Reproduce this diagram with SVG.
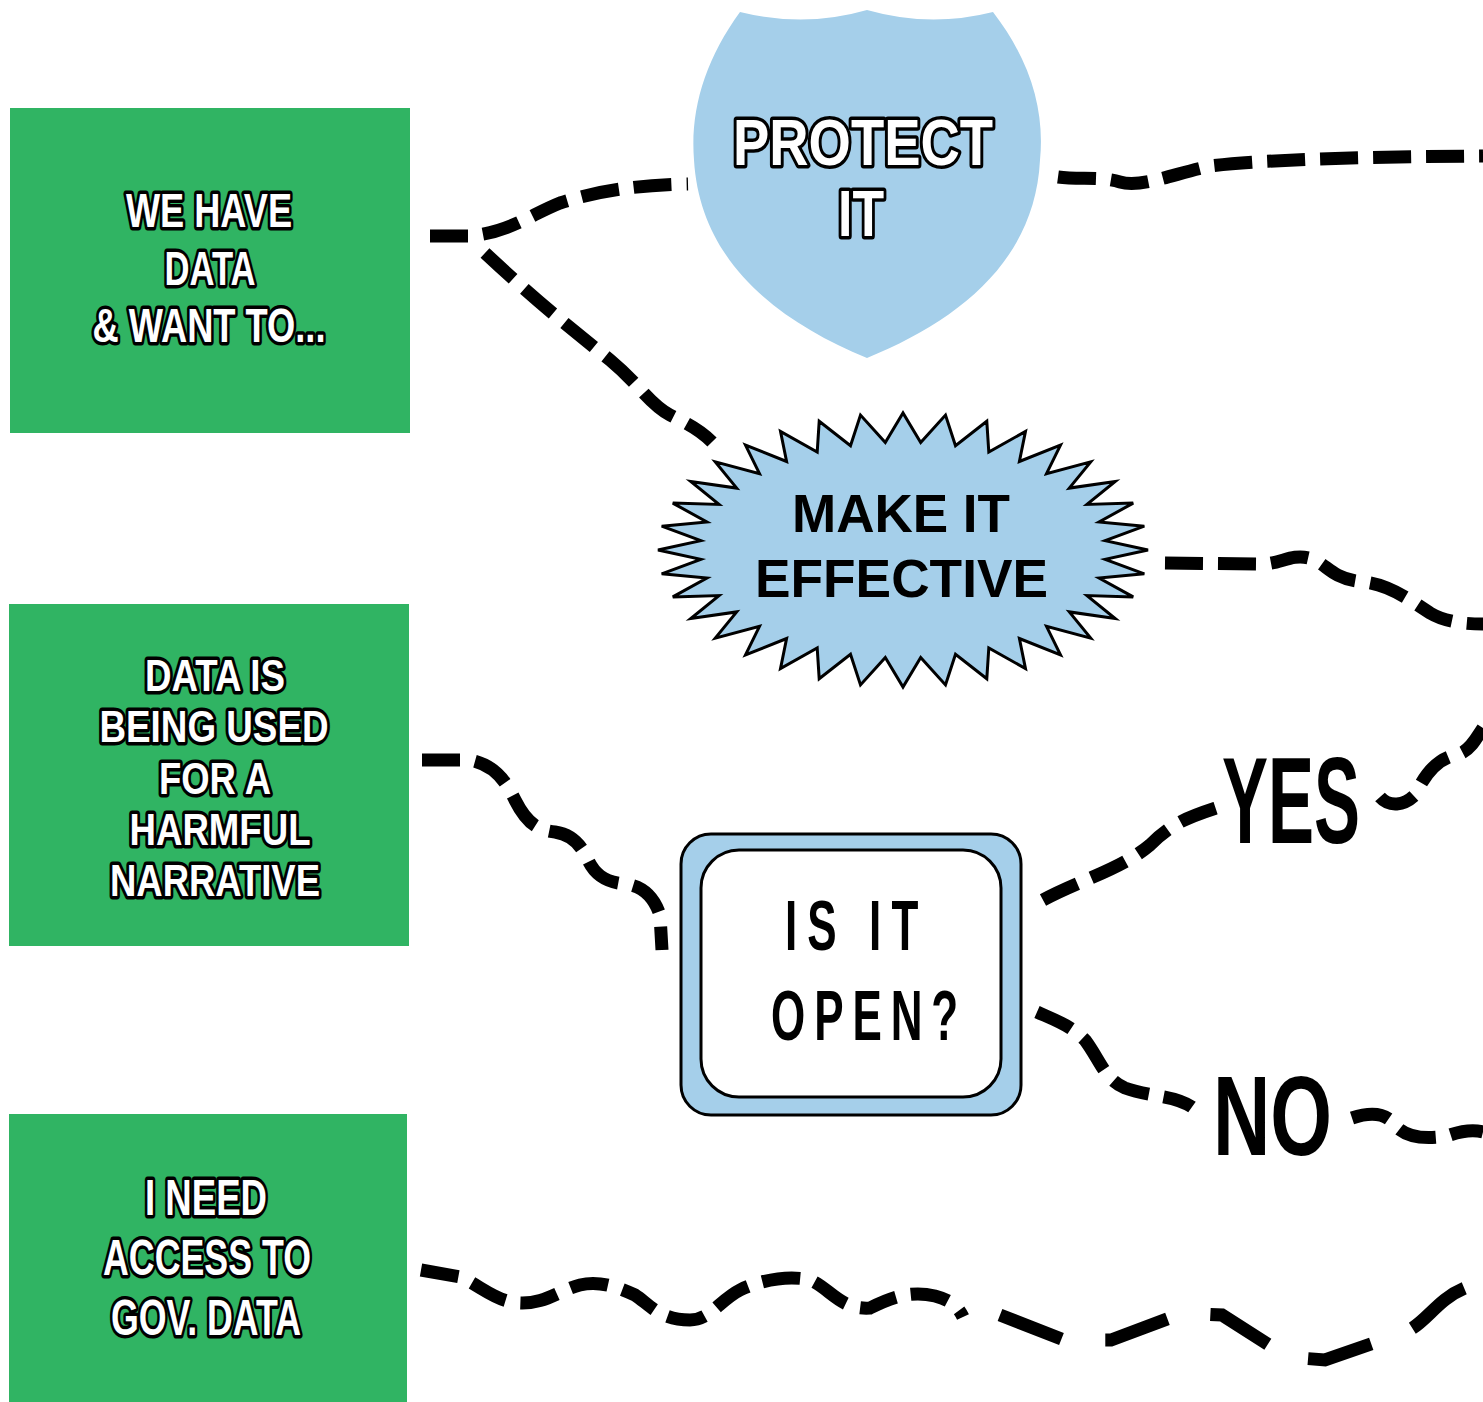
<svg xmlns="http://www.w3.org/2000/svg" width="1483" height="1402" viewBox="0 0 1483 1402">
<style>
.box{fill:#30b463}
.ol{fill:#fff;stroke:#000;stroke-width:7;paint-order:stroke;stroke-linejoin:round;font-family:"Liberation Sans",Arial,sans-serif;font-weight:bold;text-anchor:middle}
.blk{fill:#000;font-family:"Liberation Sans",Arial,sans-serif;font-weight:bold}
.blue{fill:#a5cfea}
.conn{fill:none;stroke:#000;stroke-width:13;stroke-dasharray:38 15}
.conn2{fill:none;stroke:#000;stroke-width:13;stroke-dasharray:66 44}
</style>
<rect width="1483" height="1402" fill="#fff"/>
<g id="connectors">
<path class="conn" d="M430,236 L470,236 C510,232 530,215 560,203 C600,190 640,185 688,184"/>
<path class="conn" d="M485,253 C530,295 560,320 610,360 C640,385 650,405 670,415 C690,425 700,430 712,442"/>
<path class="conn" d="M1058,177 C1080,180 1100,176 1120,182 C1140,188 1170,175 1210,166 C1260,160 1350,157 1483,156"/>
<path class="conn" d="M1165,563 L1265,564 C1285,562 1295,552 1315,560 C1330,568 1335,580 1365,582 C1390,585 1410,600 1430,613 C1445,622 1465,624 1483,624"/>
<path class="conn" d="M422,760 L470,760 C495,765 505,780 515,800 C525,820 535,830 555,832 C575,835 582,848 588,860 C595,875 605,882 625,884 C645,886 655,900 660,915 L662,950"/>
<path class="conn" d="M1043,900 C1080,880 1120,870 1150,845 C1175,820 1195,815 1222,806"/>
<path class="conn" d="M1380,797 C1390,808 1405,805 1415,795 C1425,775 1435,760 1455,755 C1470,752 1475,740 1483,728"/>
<path class="conn" d="M1037,1012 C1055,1020 1070,1025 1085,1040 C1100,1060 1105,1080 1125,1088 C1150,1097 1175,1095 1192,1107"/>
<path class="conn" d="M1352,1118 C1370,1112 1385,1112 1395,1125 C1405,1138 1430,1140 1450,1135 C1465,1130 1475,1130 1483,1132"/>
<path class="conn" d="M421,1270 L460,1277 C480,1285 495,1302 520,1303 C545,1304 560,1290 580,1285 C600,1280 620,1288 635,1295 C650,1305 660,1320 690,1320 C710,1320 720,1300 740,1290 C760,1280 790,1275 810,1280 C830,1288 840,1310 870,1308 C890,1298 910,1290 935,1296 C950,1300 958,1306 963,1317"/>
<path class="conn2" d="M1000,1315 L1064,1340 L1111,1340 L1183,1313 L1222,1315 L1288,1357 L1325,1360 L1405,1332 C1430,1322 1440,1290 1483,1283"/>
</g>
<g id="node-we-have-data">
<rect class="box" x="10" y="108" width="400" height="325"/>
<text class="ol" font-size="48" x="209" y="227" textLength="166" lengthAdjust="spacingAndGlyphs">WE HAVE</text>
<text class="ol" font-size="48" x="210" y="285" textLength="91" lengthAdjust="spacingAndGlyphs">DATA</text>
<text class="ol" font-size="48" x="209" y="342" textLength="233" lengthAdjust="spacingAndGlyphs">&amp; WANT TO...</text>
</g>
<g id="node-harmful-narrative">
<rect class="box" x="9" y="604" width="400" height="342"/>
<text class="ol" font-size="45" x="215" y="691" textLength="140" lengthAdjust="spacingAndGlyphs">DATA IS</text>
<text class="ol" font-size="45" x="214" y="742" textLength="229" lengthAdjust="spacingAndGlyphs">BEING USED</text>
<text class="ol" font-size="45" x="215" y="794" textLength="112" lengthAdjust="spacingAndGlyphs">FOR A</text>
<text class="ol" font-size="45" x="220" y="845" textLength="181" lengthAdjust="spacingAndGlyphs">HARMFUL</text>
<text class="ol" font-size="45" x="215" y="896" textLength="210" lengthAdjust="spacingAndGlyphs">NARRATIVE</text>
</g>
<g id="node-gov-data">
<rect class="box" x="9" y="1114" width="398" height="288"/>
<text class="ol" font-size="50" x="206" y="1215" textLength="122" lengthAdjust="spacingAndGlyphs">I NEED</text>
<text class="ol" font-size="50" x="207" y="1275" textLength="208" lengthAdjust="spacingAndGlyphs">ACCESS TO</text>
<text class="ol" font-size="50" x="206" y="1335" textLength="190" lengthAdjust="spacingAndGlyphs">GOV. DATA</text>
</g>
<g id="node-protect-it">
<path class="blue" d="M740,12 Q805,28 867,10 Q930,28 993,12 C1030,60 1045,110 1040,160 C1035,260 960,320 867,358 C775,320 700,260 694,160 C690,110 705,60 740,12 Z"/>
<text class="ol" font-size="64" x="863" y="165" textLength="260" lengthAdjust="spacingAndGlyphs">PROTECT</text>
<text class="ol" font-size="64" x="861" y="236" textLength="46" lengthAdjust="spacingAndGlyphs">IT</text>
</g>
<g id="node-make-it-effective">
<polygon class="blue" stroke="#000" stroke-width="3" stroke-linejoin="miter" points="1148,550 1105.2,559.4 1144.3,573.8 1099.1,578 1133.2,596.9 1087,595.6 1115.2,618.5 1069.3,611.9 1090.7,638.1 1046.5,626.4 1060.5,654.9 1019.4,638.5 1025.5,668.6 988.8,647.9 986.8,678.7 955.5,654.3 945.5,684.9 920.7,657.6 903,687 885.3,657.6 860.5,684.9 850.5,654.3 819.2,678.7 817.2,647.9 780.5,668.6 786.6,638.5 745.5,654.9 759.5,626.4 715.3,638.1 736.7,611.9 690.8,618.5 719,595.6 672.8,596.9 706.9,578 661.7,573.8 700.8,559.4 658,550 700.8,540.6 661.7,526.2 706.9,522 672.8,503.1 719,504.4 690.8,481.5 736.7,488.1 715.3,461.9 759.5,473.6 745.5,445.1 786.6,461.5 780.5,431.4 817.2,452.1 819.2,421.3 850.5,445.7 860.5,415.1 885.3,442.4 903,413 920.7,442.4 945.5,415.1 955.5,445.7 986.8,421.3 988.8,452.1 1025.5,431.4 1019.4,461.5 1060.5,445.1 1046.5,473.6 1090.7,461.9 1069.3,488.1 1115.2,481.5 1087,504.4 1133.2,503.1 1099.1,522 1144.3,526.2 1105.2,540.6"/>
<text class="blk" font-size="53" x="792" y="532" textLength="218" lengthAdjust="spacingAndGlyphs">MAKE IT</text>
<text class="blk" font-size="53" x="755" y="597" textLength="293" lengthAdjust="spacingAndGlyphs">EFFECTIVE</text>
</g>
<g id="node-is-it-open">
<rect class="blue" x="681" y="834" width="340" height="281" rx="30" stroke="#000" stroke-width="3"/>
<rect x="701" y="850" width="300" height="247" rx="38" fill="#fff" stroke="#000" stroke-width="3"/>
<text class="blk" font-size="71" transform="translate(785,950) scale(0.62,1)" x="0" y="0" textLength="215" lengthAdjust="spacing">IS IT</text>
<text class="blk" font-size="71" transform="translate(771,1040) scale(0.62,1)" x="0" y="0" textLength="302" lengthAdjust="spacing">OPEN?</text>
</g>
<g id="label-yes">
<text class="blk" font-size="122" x="1222" y="843" textLength="138" lengthAdjust="spacingAndGlyphs">YES</text>
</g>
<g id="label-no">
<text class="blk" font-size="114" x="1213" y="1155" textLength="119" lengthAdjust="spacingAndGlyphs">NO</text>
</g>
</svg>
